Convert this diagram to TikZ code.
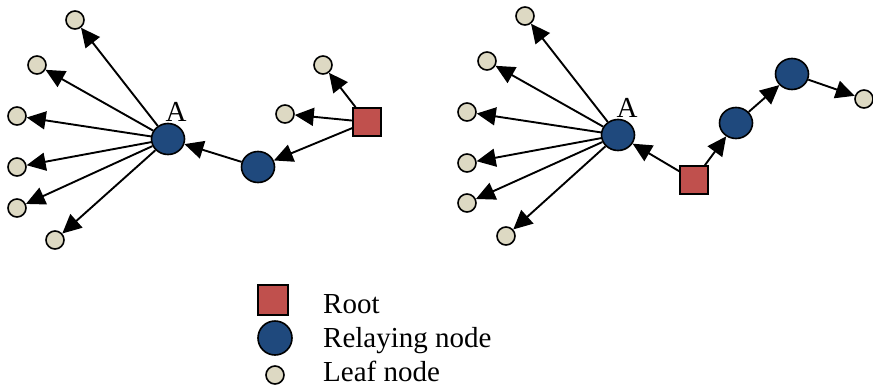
\documentclass[tikz,border=0pt]{standalone}
\usepackage{fontspec}
\setmainfont{Liberation Serif}
\usetikzlibrary{shapes.geometric,arrows.meta}
\definecolor{rootc}{HTML}{C0504D}
\definecolor{relayc}{HTML}{1F497D}
\definecolor{leafc}{HTML}{DDD9C3}
\begin{document}
\begin{tikzpicture}[x=1pt,y=-1pt,
  leaf/.style={circle,draw=black,line width=1.6pt,fill=leafc,minimum size=18pt,inner sep=0pt},
  relay/.style={ellipse,draw=black,line width=1.6pt,fill=relayc,minimum width=33pt,minimum height=31pt,inner sep=0pt},
  rootbox/.style={rectangle,draw=black,line width=1.6pt,fill=rootc,minimum size=28pt,inner sep=0pt},
  edge/.style={line width=1.9pt,-{Triangle[length=19pt,width=18pt]}},
  lbl/.style={font=\fontsize{29}{34}\selectfont,inner sep=0pt}]
\useasboundingbox (0,0) rectangle (873,386);
% left graph
\node[relay] (A) at (168,139) {};
\node[lbl,anchor=base] (Alab) at (176,121) {A};
\node[relay] (B) at (258,167) {};
\node[rootbox] (R) at (367,122) {};
\node[leaf] (l1) at (75,20) {};
\node[leaf] (l2) at (37,65) {};
\node[leaf] (l3) at (17,116) {};
\node[leaf] (l4) at (17,167) {};
\node[leaf] (l5) at (17,208) {};
\node[leaf] (l6) at (55,240) {};
\node[leaf] (l7) at (323,65) {};
\node[leaf] (l8) at (285,114) {};
\foreach \n in {l1,l2,l3,l4,l5,l6} \draw[edge] (A) -- (\n);
\draw[edge] (B) -- (A);
\draw[edge] (R) -- (B);
\draw[edge] (R) -- (l7);
\draw[edge] (R) -- (l8);
% right graph
\node[relay] (A2) at (618,135) {};
\node[lbl,anchor=base] (A2lab) at (627,117) {A};
\node[rootbox] (R2) at (694,180) {};
\node[relay] (C1) at (736,123) {};
\node[relay] (C2) at (792,74) {};
\node[leaf] (m1) at (525,16) {};
\node[leaf] (m2) at (487,61) {};
\node[leaf] (m3) at (467,112) {};
\node[leaf] (m4) at (467,163) {};
\node[leaf] (m5) at (467,203) {};
\node[leaf] (m6) at (506,236) {};
\node[leaf] (m7) at (864,99) {};
\foreach \n in {m1,m2,m3,m4,m5,m6} \draw[edge] (A2) -- (\n);
\draw[edge] (R2) -- (A2);
\draw[edge] (R2) -- (C1);
\draw[edge] (C1) -- (C2);
\draw[edge] (C2) -- (m7);
% legend
\node[rootbox,minimum size=30pt] (kr) at (273,300) {};
\node[relay,minimum width=34pt,minimum height=34pt] (kc) at (275,338) {};
\node[leaf] (kl) at (275,375) {};
\node[lbl,anchor=base west] (tr) at (323,313) {Root};
\node[lbl,anchor=base west] (tc) at (323,347) {Relaying node};
\node[lbl,anchor=base west] (tl) at (323,381) {Leaf node};
\end{tikzpicture}
\end{document}
